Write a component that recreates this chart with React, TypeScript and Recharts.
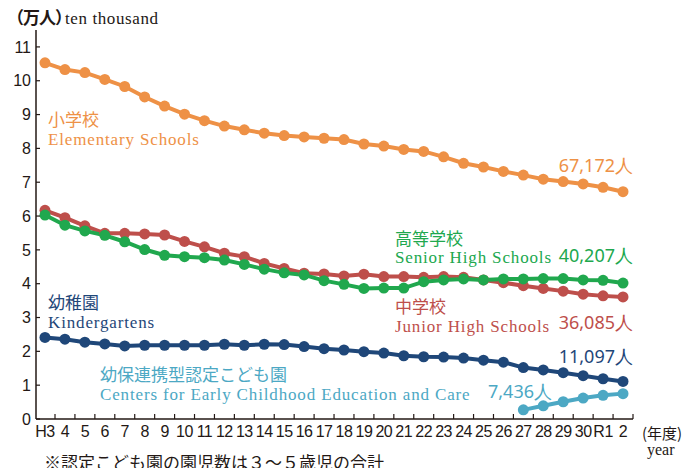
import React from "react";
import { LineChart, Line, XAxis, YAxis } from "recharts";

const years = ["H3", "4", "5", "6", "7", "8", "9", "10", "11", "12", "13", "14", "15", "16", "17", "18", "19", "20", "21", "22", "23", "24", "25", "26", "27", "28", "29", "30", "R1", "2"];
const elementary = [10.53, 10.33, 10.24, 10.04, 9.83, 9.52, 9.25, 9.01, 8.82, 8.66, 8.55, 8.45, 8.38, 8.34, 8.3, 8.26, 8.13, 8.07, 7.97, 7.91, 7.75, 7.56, 7.45, 7.32, 7.21, 7.09, 7.02, 6.95, 6.85, 6.72];
const junior = [6.17, 5.95, 5.71, 5.49, 5.49, 5.47, 5.44, 5.25, 5.09, 4.9, 4.8, 4.6, 4.45, 4.31, 4.29, 4.23, 4.28, 4.21, 4.21, 4.19, 4.21, 4.19, 4.11, 4.03, 3.94, 3.86, 3.78, 3.69, 3.64, 3.61];
const senior = [6.03, 5.73, 5.56, 5.43, 5.24, 5.01, 4.84, 4.8, 4.77, 4.7, 4.57, 4.43, 4.32, 4.26, 4.09, 3.98, 3.86, 3.87, 3.87, 4.06, 4.11, 4.14, 4.11, 4.14, 4.14, 4.15, 4.15, 4.11, 4.1, 4.02];
const kinder = [2.41, 2.36, 2.27, 2.22, 2.16, 2.18, 2.18, 2.18, 2.18, 2.21, 2.18, 2.21, 2.2, 2.14, 2.08, 2.04, 1.99, 1.95, 1.87, 1.84, 1.83, 1.8, 1.74, 1.68, 1.52, 1.45, 1.37, 1.28, 1.19, 1.11];
// 幼保連携型認定こども園: from H27 on
const centersFrom = "27";
const centers = [0.27, 0.39, 0.51, 0.62, 0.7, 0.75];
const yTicks = [0, 1, 2, 3, 4, 5, 6, 7, 8, 9, 10, 11];

const startIdx = years.indexOf(centersFrom);
const data = years.map((y, i) => ({
  year: y,
  elementary: elementary[i],
  junior: junior[i],
  senior: senior[i],
  kinder: kinder[i],
  centers: i >= startIdx ? centers[i - startIdx] : null,
}));

const C = {
  orange: "#EE9146",
  red: "#BE4F4B",
  green: "#20A84E",
  navy: "#1F4779",
  teal: "#4CA8C4",
  axis: "#231815",
};

const SANS = "'Liberation Sans', Arial, sans-serif";
const JP = "'Noto Sans CJK JP', sans-serif";
const SERIF = "'Liberation Serif', serif";
const NUM = "'Noto Sans', sans-serif";

function XTick(props: any) {
  const { x, y, payload } = props;
  const axisY = y - 7;
  return (
    <g>
      <line x1={x + 10} x2={x + 10} y1={axisY} y2={axisY - 5} stroke={C.axis} strokeWidth={1.2} />
      <text x={x} y={y} dy="0.71em" textAnchor="middle" fontFamily={SANS} fontSize={16} fill={C.axis} letterSpacing={-0.5}>
        {payload.value}
      </text>
    </g>
  );
}

function YTick(props: any) {
  const { x, y, payload } = props;
  return (
    <g>
      <line x1={x + 5} x2={x + 9} y1={y} y2={y} stroke={C.axis} strokeWidth={1.2} />
      <text x={x} y={y} dy="0.36em" textAnchor="end" fontFamily={SANS} fontSize={16} fill={C.axis}>
        {payload.value}
      </text>
    </g>
  );
}

function Note({ x, y, right, color, size, family, spacing, children }: any) {
  const style: React.CSSProperties = {
    position: "absolute",
    top: y - size / 2,
    fontSize: size,
    lineHeight: `${size}px`,
    fontFamily: family,
    letterSpacing: spacing ?? 0,
    color,
    whiteSpace: "nowrap",
  };
  if (right !== undefined) style.right = right;
  else style.left = x;
  return <div style={style}>{children}</div>;
}

function Eng(props: any) {
  return <Note size={17} family={SERIF} spacing={0.85} {...props} />;
}

export default function App() {
  const lineProps = { type: "linear" as const, strokeWidth: 4, isAnimationActive: false, activeDot: false as const };
  return (
    <div style={{ position: "fixed", left: 0, top: 0, width: 682, height: 468, background: "#fff", overflow: "hidden" }}>
      <LineChart width={682} height={468} data={data} margin={{ top: 30, right: 49, bottom: 19, left: 0 }}>
        <XAxis
          dataKey="year"
          interval={0}
          padding={{ left: 9, right: 10 }}
          tickSize={0}
          tickMargin={7}
          tickLine={false}
          axisLine={{ stroke: C.axis, strokeWidth: 1.5 }}
          tick={<XTick />}
          height={30}
        />
        <YAxis
          domain={[0, 11.5]}
          ticks={yTicks}
          width={36}
          tickSize={0}
          tickMargin={5}
          tickLine={false}
          axisLine={{ stroke: C.axis, strokeWidth: 1.5 }}
          tick={<YTick />}
        />
        <Line dataKey="elementary" stroke={C.orange} dot={{ r: 5.5, fill: C.orange, stroke: "none" }} {...lineProps} />
        <Line dataKey="junior" stroke={C.red} dot={{ r: 5.5, fill: C.red, stroke: "none" }} {...lineProps} />
        <Line dataKey="senior" stroke={C.green} dot={{ r: 5.5, fill: C.green, stroke: "none" }} {...lineProps} />
        <Line dataKey="kinder" stroke={C.navy} dot={{ r: 5.5, fill: C.navy, stroke: "none" }} {...lineProps} />
        <Line dataKey="centers" stroke={C.teal} dot={{ r: 5.5, fill: C.teal, stroke: "none" }} {...lineProps} />
      </LineChart>

      <div style={{ position: "absolute", left: 7, top: 7, fontSize: 17, lineHeight: "20px", color: C.axis, whiteSpace: "nowrap" }}>
        <span style={{ fontFamily: JP, fontWeight: 700, letterSpacing: -1 }}>（万人）</span>
        <span style={{ fontFamily: SERIF, fontSize: 17, letterSpacing: 0.6, marginLeft: -6 }}>ten thousand</span>
      </div>

      <Note x={48} y={118} color={C.orange} size={17} family={JP}>小学校</Note>
      <Eng x={48} y={139} color={C.orange}>Elementary Schools</Eng>
      <Note right={49} y={165} color={C.orange} size={18} family={NUM}>67,172人</Note>

      <Note x={395} y={237} color={C.green} size={17} family={JP}>高等学校</Note>
      <Eng x={395} y={257} color={C.green}>Senior High Schools</Eng>
      <Note right={49} y={255} color={C.green} size={18} family={NUM}>40,207人</Note>

      <Note x={395} y={305} color={C.red} size={17} family={JP}>中学校</Note>
      <Eng x={395} y={326} color={C.red}>Junior High Schools</Eng>
      <Note right={49} y={322} color={C.red} size={18} family={NUM}>36,085人</Note>

      <Note x={48} y={301} color={C.navy} size={17} family={JP}>幼稚園</Note>
      <Eng x={48} y={322} color={C.navy}>Kindergartens</Eng>
      <Note right={49} y={356} color={C.navy} size={18} family={NUM}>11,097人</Note>

      <Note x={100} y={373} color={C.teal} size={17} family={JP}>幼保連携型認定こども園</Note>
      <Eng x={100} y={394} color={C.teal}>Centers for Early Childhood Education and Care</Eng>
      <Note x={488} y={391} color={C.teal} size={18} family={NUM}>7,436人</Note>

      <Note x={642} y={432} color={C.axis} size={15} family={JP}>(年度)</Note>
      <Note x={647} y={450} color={C.axis} size={16} family={SERIF}>year</Note>
      <Note x={44} y={461} color={C.axis} size={17} family={JP}>※認定こども園の園児数は３～５歳児の合計</Note>
    </div>
  );
}
